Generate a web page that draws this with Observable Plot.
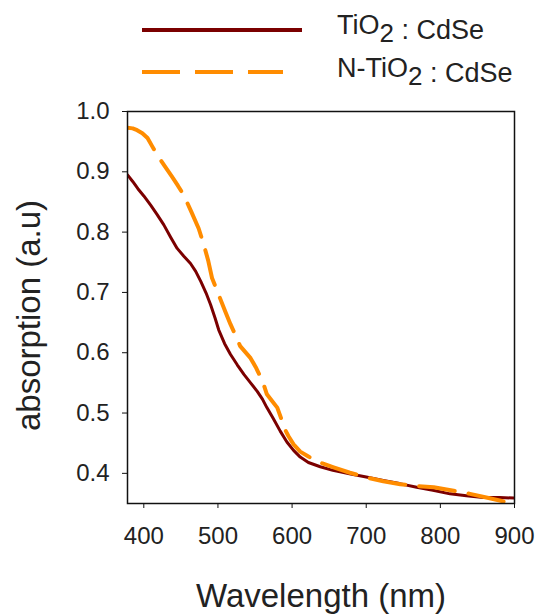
<!DOCTYPE html>
<html>
<head>
<meta charset="utf-8">
<script src="https://cdn.jsdelivr.net/npm/d3@7"></script>
<script src="https://cdn.jsdelivr.net/npm/@observablehq/plot@0.6"></script>
<style>
  html, body { margin: 0; padding: 0; background: #fff; }
  body { width: 539px; height: 615px; overflow: hidden; font-family: "Liberation Sans", Arial, sans-serif; color: #222; }
  #legend { position: relative; width: 539px; height: 90px; }
  .ln { position: absolute; height: 4px; }
  .lt { position: absolute; left: 337px; white-space: nowrap; line-height: 27px; }
  .big { font-size: 27px; }
  .sub { font-size: 26px; position: relative; top: 8px; }
  .small { font-size: 27px; position: relative; top: 5px; }
</style>
</head>
<body>
<div id="legend"></div>
<div id="chart"></div>
<script>
// ---- data ----
const seriesNames = ["TiO2 : CdSe", "N-TiO2 : CdSe"];
const tioWavelength = [378, 385, 392, 400, 409, 418, 427, 436, 445, 454, 463, 470, 477, 484, 490, 496, 501, 509, 517, 526, 535, 544, 553, 560, 566, 575, 584, 593, 602, 611, 622, 638, 655, 679, 700, 723, 745, 768, 790, 813, 835, 858, 880, 900];
const tioAbsorption = [0.895, 0.884, 0.872, 0.860, 0.845, 0.829, 0.812, 0.792, 0.773, 0.760, 0.748, 0.735, 0.718, 0.699, 0.680, 0.658, 0.638, 0.615, 0.597, 0.580, 0.564, 0.550, 0.536, 0.523, 0.509, 0.490, 0.470, 0.452, 0.438, 0.427, 0.418, 0.411, 0.405, 0.399, 0.394, 0.388, 0.383, 0.377, 0.372, 0.366, 0.363, 0.360, 0.360, 0.359];
const ntioWavelength = [378, 385, 391, 398, 405, 411, 418, 428, 438, 446, 454, 464, 474, 481, 487, 492, 501, 510, 517, 524, 530, 537, 544, 551, 557, 562, 566, 573, 580, 585, 589, 595, 602, 611, 622, 629, 642, 656, 678, 701, 723, 746, 768, 791, 818, 840, 862, 880, 898];
const ntioAbsorption = [0.973, 0.972, 0.969, 0.964, 0.956, 0.943, 0.928, 0.910, 0.892, 0.877, 0.861, 0.834, 0.806, 0.779, 0.752, 0.724, 0.696, 0.668, 0.647, 0.628, 0.611, 0.601, 0.591, 0.576, 0.561, 0.546, 0.531, 0.520, 0.509, 0.492, 0.476, 0.462, 0.448, 0.436, 0.428, 0.423, 0.416, 0.410, 0.401, 0.393, 0.387, 0.382, 0.379, 0.377, 0.371, 0.366, 0.360, 0.355, 0.349];
const xTicks = [400, 500, 600, 700, 800, 900];
const yTicks = [0.4, 0.5, 0.6, 0.7, 0.8, 0.9, 1.0];
const xLabel = "Wavelength (nm)";
const yLabel = "absorption (a.u)";
const colors = ["#7b0000", "#ff8c00"];

const tio = tioWavelength.map((w, i) => ({w, a: tioAbsorption[i]}));
const ntio = ntioWavelength.map((w, i) => ({w, a: ntioAbsorption[i]}));

// ---- legend (HTML) ----
const legend = document.getElementById("legend");
legend.innerHTML = `
  <div class="ln" style="left:142px;top:28px;width:160px;background:${colors[0]}"></div>
  <div class="ln" style="left:142px;top:70px;width:141px;background:repeating-linear-gradient(to right, ${colors[1]} 0 38px, transparent 38px 53px)"></div>
  <div class="lt" style="top:12px"><span class="big">TiO</span><span class="sub">2</span><span class="small"> : CdSe</span></div>
  <div class="lt" style="top:55px"><span class="big">N-TiO</span><span class="sub">2</span><span class="small"> : CdSe</span></div>
`;

// ---- chart ----
const chart = Plot.plot({
  width: 539,
  height: 525,
  marginTop: 21,
  marginLeft: 127,
  marginRight: 25,
  marginBottom: 112,
  style: {fontFamily: "'Liberation Sans', Arial, sans-serif", color: "#222", background: "#fff"},
  x: {domain: [378, 900]},
  y: {domain: [0.35, 1.0]},
  marks: [
    Plot.line(tio, {x: "w", y: "a", stroke: colors[0], strokeWidth: 3, clip: true}),
    Plot.line(ntio, {x: "w", y: "a", stroke: colors[1], strokeWidth: 4, strokeDasharray: "36,14", clip: true}),
    Plot.frame({stroke: "#111", strokeWidth: 1.5}),
    Plot.axisX({ticks: xTicks, tickSize: 5, tickPadding: 18, fontSize: 24, label: null, stroke: "#111"}),
    Plot.axisY({ticks: yTicks, tickSize: 5, tickPadding: 13, fontSize: 24, label: null, tickFormat: d => d.toFixed(1), stroke: "#111"}),
    Plot.text([xLabel], {frameAnchor: "bottom", dy: 103, fontSize: 33, fill: "#222"}),
    Plot.text([yLabel], {frameAnchor: "left", textAnchor: "middle", rotate: -90, dx: -98, dy: 8, fontSize: 33, fill: "#222"})
  ]
});
document.getElementById("chart").appendChild(chart);
</script>
</body>
</html>
